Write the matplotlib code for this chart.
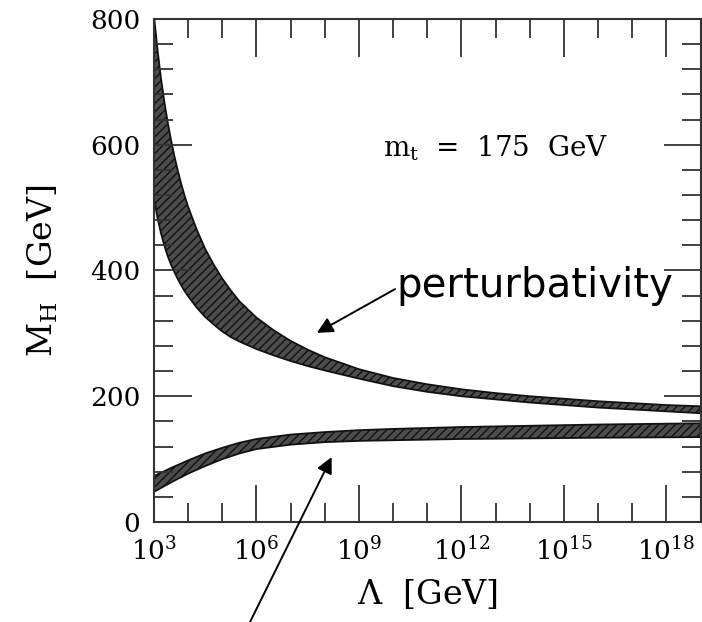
import numpy as np
import matplotlib
matplotlib.use("Agg")
import matplotlib.pyplot as plt
from matplotlib.ticker import FixedLocator, NullFormatter, FuncFormatter

plt.rcParams['font.family'] = ['DejaVu Serif']
plt.rcParams['mathtext.fontset'] = 'dejavuserif'
plt.rcParams['hatch.linewidth'] = 1.0

# ------------------------------
# data (log10 of Lambda in GeV, M_H in GeV)
# ------------------------------
# upper band: triviality / perturbativity bound
up_exp = [3.0, 3.1, 3.2, 3.3, 3.4, 3.5, 3.6, 3.7, 3.8, 3.9, 4.0, 4.25, 4.5, 4.75, 5.0, 5.25, 5.5,
          6.0, 6.5, 7.0, 7.5, 8, 9, 10, 11, 12, 13, 14, 15, 16, 17, 18, 19]
up_hi = [805, 752, 707, 669, 636, 607, 581, 558, 537, 518, 501, 465, 434, 409, 387, 368, 351,
         325, 305, 288, 274, 262, 243, 229, 219, 211, 205, 200, 196, 192, 189, 186, 184]
up_lo = [515, 484, 460, 440, 423, 409, 397, 386, 376, 367, 359, 341, 326, 314, 303, 294, 287,
         275, 265, 256, 248, 241, 228, 216, 207, 200, 195, 190, 186, 182, 179, 176, 173]

# lower band: vacuum stability bound
low_exp = [3, 3.5, 4, 4.5, 5, 5.5, 6, 7, 8, 9, 10, 12, 14, 16, 19]
low_hi = [73, 86, 98, 109, 118, 126, 132, 139, 143, 146, 148, 151, 153, 155, 157]
low_lo = [48, 63, 77, 89, 100, 109, 116, 123, 127, 129, 130, 132, 133, 134, 135]

x_major = [3, 6, 9, 12, 15, 18]
y_major = [0, 200, 400, 600, 800]

# ------------------------------
# plot
# ------------------------------
fig = plt.figure(figsize=(7.02, 6.22), dpi=100)
ax = fig.add_axes([0.2194, 0.1608, 0.7785, 0.8087])

lam_up = np.power(10.0, up_exp)
lam_low = np.power(10.0, low_exp)

ax.fill_between(lam_up, up_lo, up_hi, facecolor='#4d4d4d', edgecolor='#111111',
                hatch='////', linewidth=1.3)
ax.fill_between(lam_low, low_lo, low_hi, facecolor='#4d4d4d', edgecolor='#111111',
                hatch='////', linewidth=1.3)

ax.set_xscale('log')
ax.set_xlim(1e3, 1e19)
ax.set_ylim(0, 800)

ax.xaxis.set_major_locator(FixedLocator([10.0 ** k for k in x_major]))
ax.xaxis.set_minor_locator(FixedLocator([10.0 ** k for k in range(3, 20) if k not in x_major]))
ax.xaxis.set_major_formatter(FuncFormatter(lambda v, p: r'$10^{%d}$' % round(np.log10(v))))
ax.xaxis.set_minor_formatter(NullFormatter())

ax.yaxis.set_major_locator(FixedLocator(y_major))
ax.yaxis.set_minor_locator(FixedLocator([v for v in range(40, 800, 40) if v % 200]))

ax.tick_params(which='both', direction='in', top=True, right=True, color='#333333', width=1.3)
ax.tick_params(which='major', length=27, labelsize=19)
ax.tick_params(which='minor', length=14)
ax.tick_params(axis='y', pad=10)
ax.tick_params(axis='x', pad=11)

for s in ax.spines.values():
    s.set_color('#333333')
    s.set_linewidth(1.5)

ax.set_xlabel(r'$\Lambda$  [GeV]', fontsize=24)
ax.set_ylabel(r'M$_\mathrm{H}$  [GeV]', fontsize=24)
ax.xaxis.set_label_coords(0.5, -0.11)
ax.yaxis.set_label_coords(-0.172, 0.5)

ax.text(0.419, 0.743, r'm$_\mathrm{t}$  =  175  GeV', transform=ax.transAxes,
        fontsize=20, ha='left', va='center')

ax.text(0.444, 0.447, 'perturbativity', transform=ax.transAxes,
        fontsize=29, family='DejaVu Sans', ha='left', va='baseline')

arrow = dict(arrowstyle='-|>', color='black', lw=1.4, mutation_scale=24, shrinkA=0, shrinkB=0)
ax.annotate('', xy=(0.298, 0.376), xytext=(0.441, 0.463), xycoords='axes fraction',
            arrowprops=arrow, annotation_clip=False)
ax.annotate('', xy=(0.325, 0.129), xytext=(0.166, -0.22), xycoords='axes fraction',
            arrowprops=arrow, annotation_clip=False)

plt.savefig('out.png', dpi=100)
